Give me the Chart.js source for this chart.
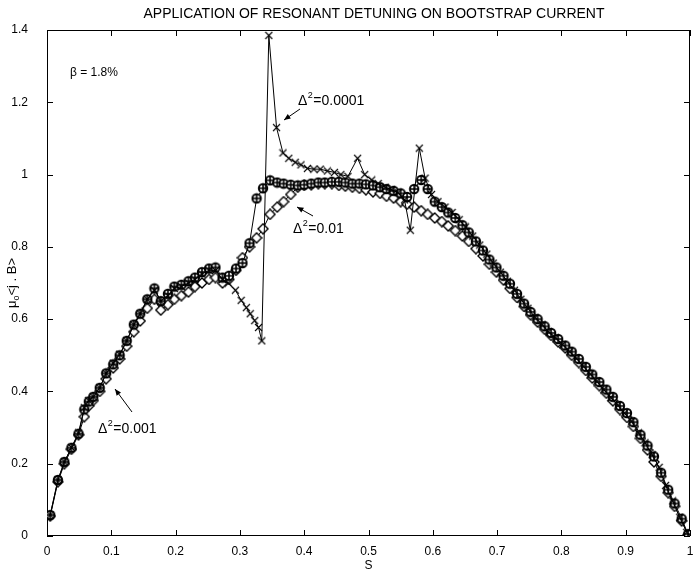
<!DOCTYPE html>
<html><head><meta charset="utf-8">
<script src="https://cdn.jsdelivr.net/npm/chart.js@4/dist/chart.umd.min.js"></script>
<style>html,body{margin:0;padding:0;background:#fff}#wrap{width:696px;height:574px;position:relative}</style>
</head><body><div id="wrap"><canvas id="c" width="696" height="574"></canvas></div>
<script>
// ---- data ----
const titleText = "APPLICATION OF RESONANT DETUNING ON BOOTSTRAP CURRENT";
const xTickValues = [0,0.1,0.2,0.3,0.4,0.5,0.6,0.7,0.8,0.9,1];
const yTickValues = [0,0.2,0.4,0.6,0.8,1,1.2,1.4];
const seriesLabels = ["\u0394\u00b2=0.0001","\u0394\u00b2=0.001","\u0394\u00b2=0.01"];

const sGrid = [
0.005,0.017,0.027,0.038,0.049,0.058,0.065,0.072,0.082,0.092,
0.103,0.113,0.124,0.135,0.145,0.156,0.167,0.177,0.188,0.198,
0.209,0.220,0.230,0.241,0.252,0.262,0.273,0.283,0.294,0.304,
0.315,0.326,0.336,0.347,0.358,0.368,0.379,0.390,0.400,0.411,
0.422,0.432,0.443,0.454,0.464,0.475,0.486,0.496,0.507,0.518,
0.528,0.539,0.550,0.560,0.571,0.582,0.592,0.603,0.614,0.624,
0.635,0.646,0.656,0.667,0.678,0.688,0.699,0.710,0.720,0.731,
0.742,0.752,0.763,0.774,0.784,0.795,0.806,0.816,0.827,0.838,
0.848,0.859,0.870,0.880,0.891,0.902,0.912,0.923,0.934,0.944,
0.955,0.966,0.976,0.987,0.997];

// Delta^2 = 0.001 (circles)
const yD001 = [
0.058,0.155,0.205,0.244,0.283,0.350,0.372,0.385,0.410,0.450,
0.475,0.500,0.540,0.585,0.615,0.655,0.685,0.650,0.670,0.690,
0.695,0.705,0.715,0.730,0.740,0.743,0.715,0.720,0.740,0.755,
0.810,0.934,0.962,0.984,0.978,0.975,0.972,0.970,0.972,0.975,
0.978,0.978,0.980,0.980,0.978,0.975,0.975,0.973,0.970,0.965,
0.960,0.955,0.948,0.938,0.960,0.985,0.960,0.925,0.910,0.895,
0.880,0.860,0.840,0.815,0.790,0.765,0.743,0.720,0.698,0.670,
0.643,0.620,0.600,0.580,0.562,0.545,0.527,0.510,0.490,0.468,
0.447,0.426,0.405,0.385,0.360,0.340,0.315,0.280,0.250,0.220,
0.175,0.128,0.090,0.048,0.005];

// Delta^2 = 0.01 (diamonds)
const yD01 = [
0.055,0.150,0.200,0.240,0.280,0.330,0.360,0.375,0.400,0.435,
0.465,0.490,0.525,0.565,0.595,0.630,0.655,0.625,0.640,0.655,
0.665,0.675,0.690,0.700,0.710,0.715,0.700,0.710,0.735,0.770,
0.800,0.825,0.850,0.890,0.910,0.925,0.945,0.965,0.970,0.972,
0.975,0.975,0.975,0.970,0.968,0.965,0.962,0.958,0.952,0.948,
0.940,0.935,0.925,0.918,0.910,0.900,0.890,0.880,0.870,0.858,
0.845,0.830,0.815,0.795,0.775,0.752,0.730,0.708,0.685,0.660,
0.635,0.612,0.592,0.572,0.555,0.537,0.520,0.500,0.480,0.458,
0.437,0.416,0.395,0.374,0.350,0.328,0.303,0.270,0.238,0.205,
0.165,0.120,0.082,0.042,0.003];

// Delta^2 = 0.0001 (x markers)
const sD0001 = [
0.005,0.017,0.027,0.038,0.049,0.058,0.065,0.072,0.082,0.092,
0.103,0.113,0.124,0.135,0.145,0.156,0.167,0.177,0.188,0.198,
0.209,0.220,0.230,0.241,0.252,0.262,0.273,0.282,0.293,0.302,
0.310,0.316,0.323,0.329,0.334,0.345,0.357,0.367,0.376,0.386,
0.395,0.405,0.415,0.425,0.436,0.447,0.457,0.468,0.483,0.494,
0.505,0.515,0.526,0.536,0.546,0.556,0.565,0.579,0.588,0.598,
0.608,0.619,0.630,0.641,0.651,0.662,0.673,0.684,0.694,0.705,
0.716,0.727,0.737,0.748,0.759,0.770,0.780,0.791,0.802,0.813,
0.823,0.834,0.845,0.855,0.866,0.877,0.888,0.898,0.909,0.920,
0.930,0.941,0.952,0.962,0.973,0.984,0.995];
const yD0001 = [
0.058,0.155,0.205,0.245,0.285,0.355,0.375,0.385,0.410,0.450,
0.478,0.503,0.540,0.585,0.615,0.655,0.680,0.650,0.665,0.685,
0.690,0.700,0.710,0.725,0.735,0.735,0.710,0.700,0.680,0.652,
0.632,0.615,0.596,0.577,0.540,1.385,1.130,1.060,1.045,1.034,
1.027,1.017,1.015,1.015,1.010,1.006,1.000,0.995,1.045,1.000,
0.985,0.975,0.965,0.958,0.950,0.930,0.846,1.073,0.990,0.945,
0.925,0.910,0.895,0.875,0.855,0.830,0.805,0.780,0.755,0.730,
0.705,0.680,0.655,0.630,0.605,0.585,0.565,0.548,0.530,0.510,
0.492,0.470,0.448,0.428,0.405,0.383,0.362,0.340,0.318,0.285,
0.258,0.225,0.190,0.140,0.097,0.052,0.010];

// ---- marker images ----
function mk(size, draw){const c=document.createElement('canvas');c.width=size;c.height=size;const g=c.getContext('2d');draw(g,size);return c;}
const circlePlus = mk(12,(g,s)=>{const m=s/2;g.fillStyle='#fff';g.strokeStyle='#000';g.lineWidth=2;
  g.beginPath();g.arc(m,m,4.2,0,Math.PI*2);g.fill();g.stroke();
  g.lineWidth=1.6;g.beginPath();g.moveTo(m-4,m);g.lineTo(m+4,m);g.moveTo(m,m-4);g.lineTo(m,m+4);g.stroke();});
const diamond = mk(12,(g,s)=>{const m=s/2;g.fillStyle='#fff';g.strokeStyle='#000';g.lineWidth=1.4;
  g.beginPath();g.moveTo(m,m-5);g.lineTo(m+5,m);g.lineTo(m,m+5);g.lineTo(m-5,m);g.closePath();g.fill();g.stroke();});
const xMark = mk(9,(g,s)=>{g.strokeStyle='#000';g.lineWidth=1.1;
  g.beginPath();g.moveTo(1,1);g.lineTo(s-1,s-1);g.moveTo(s-1,1);g.lineTo(1,s-1);g.stroke();});

const pts = (xs, ys) => xs.map((v,i)=>({x:v,y:ys[i]}));

const FONT = '"Liberation Sans", Arial, sans-serif';

function drawDelta(ctx, x, y, val){
  ctx.font = '14px '+FONT; ctx.textAlign='left'; ctx.textBaseline='alphabetic';
  ctx.fillText('\u0394', x, y);
  let w = ctx.measureText('\u0394').width;
  ctx.font = '9px '+FONT; ctx.fillText('2', x+w+0.5, y-7);
  let w2 = ctx.measureText('2').width;
  ctx.font = '14px '+FONT; ctx.fillText('='+val, x+w+w2+1, y);
}
function arrow(ctx, x1,y1,x2,y2){
  ctx.beginPath();ctx.moveTo(x1,y1);ctx.lineTo(x2,y2);ctx.stroke();
  const a=Math.atan2(y2-y1,x2-x1), L=7, h=0.4;
  ctx.beginPath();ctx.moveTo(x2,y2);
  ctx.lineTo(x2-L*Math.cos(a-h), y2-L*Math.sin(a-h));
  ctx.lineTo(x2-L*Math.cos(a+h), y2-L*Math.sin(a+h));ctx.closePath();ctx.fill();
}

const framePlugin = {
  id:'frame',
  beforeDatasetsDraw(chart){
    const {ctx, chartArea:a, scales:{x,y}} = chart;
    ctx.save(); ctx.strokeStyle='#000'; ctx.lineWidth=1;
    ctx.strokeRect(a.left+0.5, a.top+0.5, a.right-a.left-1, a.bottom-a.top-1);
    ctx.beginPath();
    xTickValues.forEach(v=>{const p=Math.round(x.getPixelForValue(v))+0.5;
      ctx.moveTo(p,a.bottom);ctx.lineTo(p,a.bottom-6);ctx.moveTo(p,a.top);ctx.lineTo(p,a.top+6);});
    yTickValues.forEach(v=>{const p=Math.round(y.getPixelForValue(v))+0.5;
      ctx.moveTo(a.left,p);ctx.lineTo(a.left+6,p);ctx.moveTo(a.right,p);ctx.lineTo(a.right-6,p);});
    ctx.stroke(); ctx.restore();
  },
  afterDraw(chart){
    const {ctx} = chart;
    ctx.save(); ctx.fillStyle='#000'; ctx.strokeStyle='#000'; ctx.lineWidth=1;
    // title
    ctx.font='14px '+FONT; ctx.textAlign='center'; ctx.textBaseline='middle';
    ctx.fillText(titleText, 374, 14);
    // beta
    ctx.font='12px '+FONT; ctx.textAlign='left';
    ctx.fillText('\u03b2 = 1.8%', 70, 73);
    // y axis label
    ctx.save(); ctx.translate(16, 283); ctx.rotate(-Math.PI/2);
    ctx.textAlign='left'; ctx.textBaseline='alphabetic';
    ctx.font='13px '+FONT; const w1=ctx.measureText('\u03bc').width;
    ctx.font='9px '+FONT; const w2=ctx.measureText('o').width;
    ctx.font='13px '+FONT; const w3=ctx.measureText('<j . B>').width;
    let sx = -(w1+w2+w3)/2;
    ctx.fillText('\u03bc', sx, 0);
    ctx.font='9px '+FONT; ctx.fillText('o', sx+w1, 3);
    ctx.font='13px '+FONT; ctx.fillText('<j . B>', sx+w1+w2, 0);
    ctx.restore();
    // annotations
    drawDelta(ctx, 298, 105, '0.0001');
    arrow(ctx, 300, 109, 284, 120);
    drawDelta(ctx, 293, 233, '0.01');
    arrow(ctx, 313, 216, 297, 207);
    drawDelta(ctx, 98, 433, '0.001');
    arrow(ctx, 132, 412, 115, 389);
    ctx.restore();
  }
};

new Chart(document.getElementById('c'), {
  type:'scatter',
  data:{datasets:[
    {label:seriesLabels[0], data:pts(sD0001,yD0001), showLine:true, borderColor:'#000', borderWidth:1,
     pointStyle:xMark, pointRadius:4, order:0},
    {label:seriesLabels[1], data:pts(sGrid,yD001), showLine:true, borderColor:'#000', borderWidth:1,
     pointStyle:circlePlus, pointRadius:5, order:1},
    {label:seriesLabels[2], data:pts(sGrid,yD01), showLine:true, borderColor:'#000', borderWidth:1,
     pointStyle:diamond, pointRadius:5, order:2}
  ]},
  options:{
    responsive:false, animation:false, devicePixelRatio:1,
    layout:{padding:{top:30,right:1,left:0,bottom:0}},
    plugins:{legend:{display:false}, tooltip:{enabled:false}, title:{display:false}},
    scales:{
      x:{type:'linear', min:0, max:1,
        afterBuildTicks:s=>{s.ticks=xTickValues.map(v=>({value:v}));},
        afterFit:s=>{s.height=38;},
        grid:{display:false}, border:{display:false},
        ticks:{color:'#000', font:{family:FONT,size:12}, padding:0, maxRotation:0,
          callback:v=> (v===0||v===1)? String(v) : v.toFixed(1)},
        title:{display:true, text:'S', color:'#000', font:{family:FONT,size:12}, padding:{top:0,bottom:1}}
      },
      y:{type:'linear', min:0, max:1.4,
        afterBuildTicks:s=>{s.ticks=yTickValues.map(v=>({value:v}));},
        afterFit:s=>{s.width=47;},
        grid:{display:false}, border:{display:false},
        ticks:{color:'#000', font:{family:FONT,size:12}, padding:11,
          callback:v=> (v===0||v===1)? String(v) : v.toFixed(1)}
      }
    }
  },
  plugins:[framePlugin]
});
</script>
</body></html>
